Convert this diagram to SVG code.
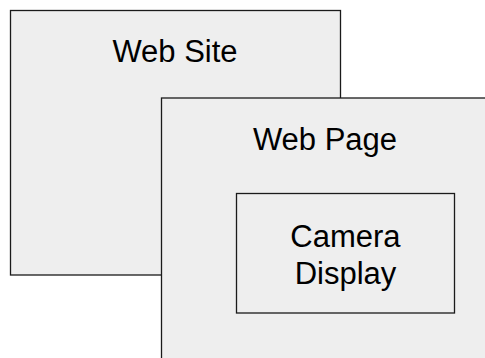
<svg xmlns="http://www.w3.org/2000/svg" width="485" height="358" viewBox="0 0 485 358">
<style>
.box{fill:#eeeeee;stroke:#1a1a1a;stroke-width:1.3}
.lbl{font-family:"Liberation Sans",Arial,sans-serif;font-size:31px;fill:#000;text-anchor:middle}
</style>
<rect width="485" height="358" fill="#ffffff"/>
<g id="web-site">
<rect class="box" x="10.5" y="10.5" width="330" height="264.5"/>
<text class="lbl" x="175" y="62">Web Site</text>
</g>
<g id="web-page">
<rect class="box" x="161.5" y="98" width="328" height="270"/>
<text class="lbl" x="325" y="149.5">Web Page</text>
</g>
<g id="camera-display">
<rect class="box" x="236.5" y="193.5" width="218" height="119.5"/>
<text class="lbl" x="345.5" y="246.5">Camera</text>
<text class="lbl" x="345.5" y="283.5">Display</text>
</g>
<g id="connectors"/>
</svg>
